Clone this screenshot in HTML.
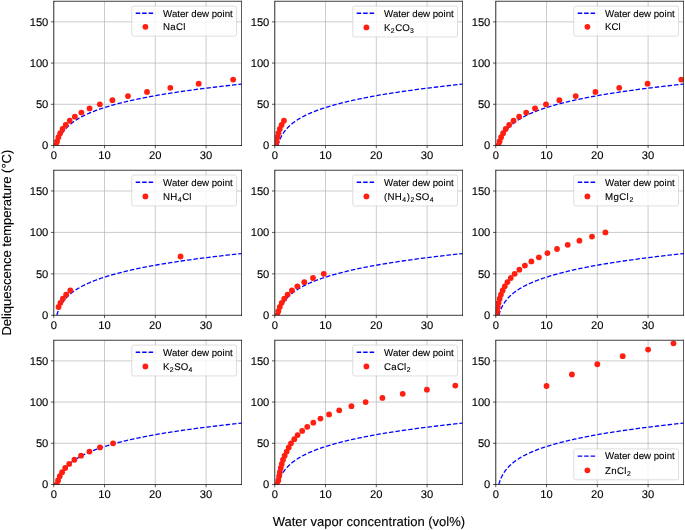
<!DOCTYPE html>
<html><head><meta charset="utf-8"><style>
html,body{margin:0;padding:0;background:#fff;}
svg{display:block;will-change:transform;text-rendering:geometricPrecision;}
text{font-family:"Liberation Sans",sans-serif;stroke:#000;stroke-width:0.12px;}
</style></head><body>
<svg width="685" height="530" viewBox="0 0 685 530" font-family='Liberation Sans, sans-serif'>
<rect width="685" height="530" fill="#fff"/>
<defs><clipPath id="c0"><rect x="53.75" y="1.25" width="187.75" height="144.25"/></clipPath><clipPath id="c1"><rect x="274.75" y="1.25" width="187.75" height="144.25"/></clipPath><clipPath id="c2"><rect x="495.75" y="1.25" width="187.75" height="144.25"/></clipPath><clipPath id="c3"><rect x="53.75" y="170.25" width="187.75" height="145.05"/></clipPath><clipPath id="c4"><rect x="274.75" y="170.25" width="187.75" height="145.05"/></clipPath><clipPath id="c5"><rect x="495.75" y="170.25" width="187.75" height="145.05"/></clipPath><clipPath id="c6"><rect x="53.75" y="340.25" width="187.75" height="144.25"/></clipPath><clipPath id="c7"><rect x="274.75" y="340.25" width="187.75" height="144.25"/></clipPath><clipPath id="c8"><rect x="495.75" y="340.25" width="187.75" height="144.25"/></clipPath></defs>
<g stroke="#b0b0b0" stroke-width="0.65"><line x1="53.75" y1="1.25" x2="53.75" y2="145.5"/><line x1="104.53" y1="1.25" x2="104.53" y2="145.5"/><line x1="155.31" y1="1.25" x2="155.31" y2="145.5"/><line x1="206.09" y1="1.25" x2="206.09" y2="145.5"/><line x1="53.75" y1="145.5" x2="241.5" y2="145.5"/><line x1="53.75" y1="104.29" x2="241.5" y2="104.29"/><line x1="53.75" y1="63.07" x2="241.5" y2="63.07"/><line x1="53.75" y1="21.86" x2="241.5" y2="21.86"/></g>
<g clip-path="url(#c0)"><polyline points="56.81,145.5 56.93,145.09 57.04,144.68 57.16,144.26 57.29,143.85 57.42,143.44 57.55,143.03 57.69,142.62 57.83,142.2 57.97,141.79 58.12,141.38 58.28,140.97 58.44,140.55 58.6,140.14 58.77,139.73 58.95,139.32 59.13,138.91 59.31,138.49 59.5,138.08 59.7,137.67 59.9,137.26 60.11,136.84 60.33,136.43 60.55,136.02 60.78,135.61 61.01,135.2 61.26,134.78 61.5,134.37 61.76,133.96 62.02,133.55 62.3,133.14 62.57,132.72 62.86,132.31 63.16,131.9 63.46,131.49 63.77,131.07 64.09,130.66 64.42,130.25 64.76,129.84 65.11,129.43 65.47,129.01 65.84,128.6 66.21,128.19 66.6,127.78 67,127.37 67.41,126.95 67.83,126.54 68.26,126.13 68.71,125.72 69.16,125.31 69.63,124.89 70.11,124.48 70.6,124.07 71.11,123.66 71.62,123.24 72.16,122.83 72.7,122.42 73.26,122.01 73.83,121.6 74.42,121.18 75.02,120.77 75.64,120.36 76.28,119.95 76.93,119.53 77.59,119.12 78.28,118.71 78.98,118.3 79.69,117.89 80.43,117.47 81.18,117.06 81.95,116.65 82.74,116.24 83.55,115.83 84.37,115.41 85.22,115 86.09,114.59 86.98,114.18 87.89,113.77 88.82,113.35 89.77,112.94 90.75,112.53 91.75,112.12 92.77,111.7 93.81,111.29 94.88,110.88 95.97,110.47 97.09,110.06 98.23,109.64 99.4,109.23 100.6,108.82 101.82,108.41 103.07,108 104.35,107.58 105.66,107.17 106.99,106.76 108.36,106.35 109.75,105.93 111.18,105.52 112.63,105.11 114.12,104.7 115.64,104.29 117.18,103.87 118.76,103.46 120.36,103.05 122.01,102.64 123.68,102.22 125.39,101.81 127.14,101.4 128.92,100.99 130.74,100.58 132.6,100.16 134.49,99.75 136.43,99.34 138.4,98.93 140.41,98.52 142.47,98.1 144.56,97.69 146.7,97.28 148.88,96.87 151.1,96.45 153.37,96.04 155.68,95.63 158.03,95.22 160.44,94.81 162.89,94.39 165.38,93.98 167.93,93.57 170.52,93.16 173.17,92.75 175.86,92.33 178.61,91.92 181.4,91.51 184.25,91.1 187.16,90.69 190.12,90.27 193.13,89.86 196.2,89.45 199.33,89.04 202.51,88.62 205.75,88.21 209.05,87.8 212.42,87.39 215.84,86.98 219.32,86.56 222.87,86.15 226.48,85.74 230.16,85.33 233.9,84.91 237.71,84.5 241.58,84.09 245.53,83.68 249.54,83.27" fill="none" stroke="#0000ff" stroke-width="1.3" stroke-dasharray="4.5 1.95"/>
<g fill="#ff1e10"><circle cx="56.06" cy="145.5" r="2.9"/><circle cx="57.06" cy="141.38" r="2.9"/><circle cx="58.41" cy="137.26" r="2.9"/><circle cx="60.21" cy="133.14" r="2.9"/><circle cx="62.59" cy="129.01" r="2.9"/><circle cx="65.71" cy="124.89" r="2.9"/><circle cx="69.73" cy="120.77" r="2.9"/><circle cx="74.86" cy="116.65" r="2.9"/><circle cx="81.38" cy="112.53" r="2.9"/><circle cx="89.57" cy="108.41" r="2.9"/><circle cx="99.81" cy="104.29" r="2.9"/><circle cx="112.42" cy="100.16" r="2.9"/><circle cx="127.96" cy="96.04" r="2.9"/><circle cx="147.03" cy="91.92" r="2.9"/><circle cx="170.32" cy="87.8" r="2.9"/><circle cx="198.69" cy="83.68" r="2.9"/><circle cx="233.17" cy="79.56" r="2.9"/></g></g>
<g stroke="#000" stroke-width="0.65" stroke-linecap="square"><line x1="241.5" y1="1.25" x2="241.5" y2="145.5"/><line x1="53.75" y1="145.5" x2="241.5" y2="145.5"/></g>
<line x1="53.45" y1="1.25" x2="241.8" y2="1.25" stroke="#2a2a2a" stroke-width="0.9"/>
<line x1="53.75" y1="0.95" x2="53.75" y2="145.8" stroke="#2a2a2a" stroke-width="0.9"/>
<g stroke="#000" stroke-width="0.65"><line x1="53.75" y1="145.5" x2="53.75" y2="148.3"/><line x1="104.53" y1="145.5" x2="104.53" y2="148.3"/><line x1="155.31" y1="145.5" x2="155.31" y2="148.3"/><line x1="206.09" y1="145.5" x2="206.09" y2="148.3"/><line x1="50.95" y1="145.5" x2="53.75" y2="145.5"/><line x1="50.95" y1="104.29" x2="53.75" y2="104.29"/><line x1="50.95" y1="63.07" x2="53.75" y2="63.07"/><line x1="50.95" y1="21.86" x2="53.75" y2="21.86"/></g>
<g font-size="11.2" fill="#000"><text x="53.75" y="159.3" text-anchor="middle">0</text><text x="104.53" y="159.3" text-anchor="middle">10</text><text x="155.31" y="159.3" text-anchor="middle">20</text><text x="206.09" y="159.3" text-anchor="middle">30</text><text x="48.35" y="149.4" text-anchor="end">0</text><text x="48.35" y="108.19" text-anchor="end">50</text><text x="48.35" y="66.97" text-anchor="end">100</text><text x="48.35" y="25.76" text-anchor="end">150</text></g>
<rect x="131.8" y="6.05" width="104.7" height="30.1" rx="1.9" fill="#fff" fill-opacity="0.8" stroke="#cccccc" stroke-width="0.65"/><line x1="135.7" y1="13.25" x2="155.1" y2="13.25" stroke="#0000ff" stroke-width="1.3" stroke-dasharray="4.5 1.95"/><circle cx="145.4" cy="26.85" r="2.9" fill="#ff1e10"/><g font-size="9.7" fill="#000"><text x="163.1" y="16.55">Water dew point</text><text x="163.1" y="30.35" font-size="9.7" letter-spacing="0.25"><tspan>NaCl</tspan></text></g>
<g stroke="#b0b0b0" stroke-width="0.65"><line x1="274.75" y1="1.25" x2="274.75" y2="145.5"/><line x1="325.53" y1="1.25" x2="325.53" y2="145.5"/><line x1="376.31" y1="1.25" x2="376.31" y2="145.5"/><line x1="427.09" y1="1.25" x2="427.09" y2="145.5"/><line x1="274.75" y1="145.5" x2="462.5" y2="145.5"/><line x1="274.75" y1="104.29" x2="462.5" y2="104.29"/><line x1="274.75" y1="63.07" x2="462.5" y2="63.07"/><line x1="274.75" y1="21.86" x2="462.5" y2="21.86"/></g>
<g clip-path="url(#c1)"><polyline points="277.81,145.5 277.93,145.09 278.04,144.68 278.16,144.26 278.29,143.85 278.42,143.44 278.55,143.03 278.69,142.62 278.83,142.2 278.97,141.79 279.12,141.38 279.28,140.97 279.44,140.55 279.6,140.14 279.77,139.73 279.95,139.32 280.13,138.91 280.31,138.49 280.5,138.08 280.7,137.67 280.9,137.26 281.11,136.84 281.33,136.43 281.55,136.02 281.78,135.61 282.01,135.2 282.26,134.78 282.5,134.37 282.76,133.96 283.02,133.55 283.3,133.14 283.57,132.72 283.86,132.31 284.16,131.9 284.46,131.49 284.77,131.07 285.09,130.66 285.42,130.25 285.76,129.84 286.11,129.43 286.47,129.01 286.84,128.6 287.21,128.19 287.6,127.78 288,127.37 288.41,126.95 288.83,126.54 289.26,126.13 289.71,125.72 290.16,125.31 290.63,124.89 291.11,124.48 291.6,124.07 292.11,123.66 292.62,123.24 293.16,122.83 293.7,122.42 294.26,122.01 294.83,121.6 295.42,121.18 296.02,120.77 296.64,120.36 297.28,119.95 297.93,119.53 298.59,119.12 299.28,118.71 299.98,118.3 300.69,117.89 301.43,117.47 302.18,117.06 302.95,116.65 303.74,116.24 304.55,115.83 305.37,115.41 306.22,115 307.09,114.59 307.98,114.18 308.89,113.77 309.82,113.35 310.77,112.94 311.75,112.53 312.75,112.12 313.77,111.7 314.81,111.29 315.88,110.88 316.97,110.47 318.09,110.06 319.23,109.64 320.4,109.23 321.6,108.82 322.82,108.41 324.07,108 325.35,107.58 326.66,107.17 327.99,106.76 329.36,106.35 330.75,105.93 332.18,105.52 333.63,105.11 335.12,104.7 336.64,104.29 338.18,103.87 339.76,103.46 341.36,103.05 343.01,102.64 344.68,102.22 346.39,101.81 348.14,101.4 349.92,100.99 351.74,100.58 353.6,100.16 355.49,99.75 357.43,99.34 359.4,98.93 361.41,98.52 363.47,98.1 365.56,97.69 367.7,97.28 369.88,96.87 372.1,96.45 374.37,96.04 376.68,95.63 379.03,95.22 381.44,94.81 383.89,94.39 386.38,93.98 388.93,93.57 391.52,93.16 394.17,92.75 396.86,92.33 399.61,91.92 402.4,91.51 405.25,91.1 408.16,90.69 411.12,90.27 414.13,89.86 417.2,89.45 420.33,89.04 423.51,88.62 426.75,88.21 430.05,87.8 433.42,87.39 436.84,86.98 440.32,86.56 443.87,86.15 447.48,85.74 451.16,85.33 454.9,84.91 458.71,84.5 462.58,84.09 466.53,83.68 470.54,83.27" fill="none" stroke="#0000ff" stroke-width="1.3" stroke-dasharray="4.5 1.95"/>
<g fill="#ff1e10"><circle cx="276.07" cy="145.5" r="2.9"/><circle cx="276.64" cy="141.38" r="2.9"/><circle cx="277.4" cy="137.26" r="2.9"/><circle cx="278.44" cy="133.14" r="2.9"/><circle cx="279.81" cy="129.01" r="2.9"/><circle cx="281.6" cy="124.89" r="2.9"/><circle cx="283.93" cy="120.77" r="2.9"/></g></g>
<g stroke="#000" stroke-width="0.65" stroke-linecap="square"><line x1="462.5" y1="1.25" x2="462.5" y2="145.5"/><line x1="274.75" y1="145.5" x2="462.5" y2="145.5"/></g>
<line x1="274.45" y1="1.25" x2="462.8" y2="1.25" stroke="#2a2a2a" stroke-width="0.9"/>
<line x1="274.75" y1="0.95" x2="274.75" y2="145.8" stroke="#2a2a2a" stroke-width="0.9"/>
<g stroke="#000" stroke-width="0.65"><line x1="274.75" y1="145.5" x2="274.75" y2="148.3"/><line x1="325.53" y1="145.5" x2="325.53" y2="148.3"/><line x1="376.31" y1="145.5" x2="376.31" y2="148.3"/><line x1="427.09" y1="145.5" x2="427.09" y2="148.3"/><line x1="271.95" y1="145.5" x2="274.75" y2="145.5"/><line x1="271.95" y1="104.29" x2="274.75" y2="104.29"/><line x1="271.95" y1="63.07" x2="274.75" y2="63.07"/><line x1="271.95" y1="21.86" x2="274.75" y2="21.86"/></g>
<g font-size="11.2" fill="#000"><text x="274.75" y="159.3" text-anchor="middle">0</text><text x="325.53" y="159.3" text-anchor="middle">10</text><text x="376.31" y="159.3" text-anchor="middle">20</text><text x="427.09" y="159.3" text-anchor="middle">30</text><text x="269.35" y="149.4" text-anchor="end">0</text><text x="269.35" y="108.19" text-anchor="end">50</text><text x="269.35" y="66.97" text-anchor="end">100</text><text x="269.35" y="25.76" text-anchor="end">150</text></g>
<rect x="352.8" y="6.05" width="104.7" height="30.9" rx="1.9" fill="#fff" fill-opacity="0.8" stroke="#cccccc" stroke-width="0.65"/><line x1="356.7" y1="13.25" x2="376.1" y2="13.25" stroke="#0000ff" stroke-width="1.3" stroke-dasharray="4.5 1.95"/><circle cx="366.4" cy="27.45" r="2.9" fill="#ff1e10"/><g font-size="9.7" fill="#000"><text x="384.1" y="16.55">Water dew point</text><text x="384.1" y="30.85" font-size="9.7"><tspan>K</tspan><tspan font-size="6.79" dy="1.9" dx="0.3">2</tspan><tspan dy="-1.9" dx="0.6">CO</tspan><tspan font-size="6.79" dy="1.9" dx="0.3">3</tspan></text></g>
<g stroke="#b0b0b0" stroke-width="0.65"><line x1="495.75" y1="1.25" x2="495.75" y2="145.5"/><line x1="546.53" y1="1.25" x2="546.53" y2="145.5"/><line x1="597.31" y1="1.25" x2="597.31" y2="145.5"/><line x1="648.09" y1="1.25" x2="648.09" y2="145.5"/><line x1="495.75" y1="145.5" x2="683.5" y2="145.5"/><line x1="495.75" y1="104.29" x2="683.5" y2="104.29"/><line x1="495.75" y1="63.07" x2="683.5" y2="63.07"/><line x1="495.75" y1="21.86" x2="683.5" y2="21.86"/></g>
<g clip-path="url(#c2)"><polyline points="498.81,145.5 498.93,145.09 499.04,144.68 499.16,144.26 499.29,143.85 499.42,143.44 499.55,143.03 499.69,142.62 499.83,142.2 499.97,141.79 500.12,141.38 500.28,140.97 500.44,140.55 500.6,140.14 500.77,139.73 500.95,139.32 501.13,138.91 501.31,138.49 501.5,138.08 501.7,137.67 501.9,137.26 502.11,136.84 502.33,136.43 502.55,136.02 502.78,135.61 503.01,135.2 503.26,134.78 503.5,134.37 503.76,133.96 504.02,133.55 504.3,133.14 504.57,132.72 504.86,132.31 505.16,131.9 505.46,131.49 505.77,131.07 506.09,130.66 506.42,130.25 506.76,129.84 507.11,129.43 507.47,129.01 507.84,128.6 508.21,128.19 508.6,127.78 509,127.37 509.41,126.95 509.83,126.54 510.26,126.13 510.71,125.72 511.16,125.31 511.63,124.89 512.11,124.48 512.6,124.07 513.11,123.66 513.62,123.24 514.16,122.83 514.7,122.42 515.26,122.01 515.83,121.6 516.42,121.18 517.02,120.77 517.64,120.36 518.28,119.95 518.93,119.53 519.59,119.12 520.28,118.71 520.98,118.3 521.69,117.89 522.43,117.47 523.18,117.06 523.95,116.65 524.74,116.24 525.55,115.83 526.37,115.41 527.22,115 528.09,114.59 528.98,114.18 529.89,113.77 530.82,113.35 531.77,112.94 532.75,112.53 533.75,112.12 534.77,111.7 535.81,111.29 536.88,110.88 537.97,110.47 539.09,110.06 540.23,109.64 541.4,109.23 542.6,108.82 543.82,108.41 545.07,108 546.35,107.58 547.66,107.17 548.99,106.76 550.36,106.35 551.75,105.93 553.18,105.52 554.63,105.11 556.12,104.7 557.64,104.29 559.18,103.87 560.76,103.46 562.36,103.05 564.01,102.64 565.68,102.22 567.39,101.81 569.14,101.4 570.92,100.99 572.74,100.58 574.6,100.16 576.49,99.75 578.43,99.34 580.4,98.93 582.41,98.52 584.47,98.1 586.56,97.69 588.7,97.28 590.88,96.87 593.1,96.45 595.37,96.04 597.68,95.63 600.03,95.22 602.44,94.81 604.89,94.39 607.38,93.98 609.93,93.57 612.52,93.16 615.17,92.75 617.86,92.33 620.61,91.92 623.4,91.51 626.25,91.1 629.16,90.69 632.12,90.27 635.13,89.86 638.2,89.45 641.33,89.04 644.51,88.62 647.75,88.21 651.05,87.8 654.42,87.39 657.84,86.98 661.32,86.56 664.87,86.15 668.48,85.74 672.16,85.33 675.9,84.91 679.71,84.5 683.58,84.09 687.53,83.68 691.54,83.27" fill="none" stroke="#0000ff" stroke-width="1.3" stroke-dasharray="4.5 1.95"/>
<g fill="#ff1e10"><circle cx="498.46" cy="145.5" r="2.9"/><circle cx="499.58" cy="141.38" r="2.9"/><circle cx="501.09" cy="137.26" r="2.9"/><circle cx="503.09" cy="133.14" r="2.9"/><circle cx="505.72" cy="129.01" r="2.9"/><circle cx="509.14" cy="124.89" r="2.9"/><circle cx="513.54" cy="120.77" r="2.9"/><circle cx="519.14" cy="116.65" r="2.9"/><circle cx="526.21" cy="112.53" r="2.9"/><circle cx="535.04" cy="108.41" r="2.9"/><circle cx="546" cy="104.29" r="2.9"/><circle cx="559.38" cy="100.16" r="2.9"/><circle cx="575.69" cy="96.04" r="2.9"/><circle cx="595.45" cy="91.92" r="2.9"/><circle cx="619.2" cy="87.8" r="2.9"/><circle cx="647.58" cy="83.68" r="2.9"/><circle cx="681.31" cy="79.56" r="2.9"/></g></g>
<g stroke="#000" stroke-width="0.65" stroke-linecap="square"><line x1="683.5" y1="1.25" x2="683.5" y2="145.5"/><line x1="495.75" y1="145.5" x2="683.5" y2="145.5"/></g>
<line x1="495.45" y1="1.25" x2="683.8" y2="1.25" stroke="#2a2a2a" stroke-width="0.9"/>
<line x1="495.75" y1="0.95" x2="495.75" y2="145.8" stroke="#2a2a2a" stroke-width="0.9"/>
<g stroke="#000" stroke-width="0.65"><line x1="495.75" y1="145.5" x2="495.75" y2="148.3"/><line x1="546.53" y1="145.5" x2="546.53" y2="148.3"/><line x1="597.31" y1="145.5" x2="597.31" y2="148.3"/><line x1="648.09" y1="145.5" x2="648.09" y2="148.3"/><line x1="492.95" y1="145.5" x2="495.75" y2="145.5"/><line x1="492.95" y1="104.29" x2="495.75" y2="104.29"/><line x1="492.95" y1="63.07" x2="495.75" y2="63.07"/><line x1="492.95" y1="21.86" x2="495.75" y2="21.86"/></g>
<g font-size="11.2" fill="#000"><text x="495.75" y="159.3" text-anchor="middle">0</text><text x="546.53" y="159.3" text-anchor="middle">10</text><text x="597.31" y="159.3" text-anchor="middle">20</text><text x="648.09" y="159.3" text-anchor="middle">30</text><text x="490.35" y="149.4" text-anchor="end">0</text><text x="490.35" y="108.19" text-anchor="end">50</text><text x="490.35" y="66.97" text-anchor="end">100</text><text x="490.35" y="25.76" text-anchor="end">150</text></g>
<rect x="573.8" y="6.05" width="104.7" height="30.1" rx="1.9" fill="#fff" fill-opacity="0.8" stroke="#cccccc" stroke-width="0.65"/><line x1="577.7" y1="13.25" x2="597.1" y2="13.25" stroke="#0000ff" stroke-width="1.3" stroke-dasharray="4.5 1.95"/><circle cx="587.4" cy="26.85" r="2.9" fill="#ff1e10"/><g font-size="9.7" fill="#000"><text x="605.1" y="16.55">Water dew point</text><text x="605.1" y="30.35" font-size="9.7"><tspan>KCl</tspan></text></g>
<g stroke="#b0b0b0" stroke-width="0.65"><line x1="53.75" y1="170.25" x2="53.75" y2="315.3"/><line x1="104.53" y1="170.25" x2="104.53" y2="315.3"/><line x1="155.31" y1="170.25" x2="155.31" y2="315.3"/><line x1="206.09" y1="170.25" x2="206.09" y2="315.3"/><line x1="53.75" y1="315.3" x2="241.5" y2="315.3"/><line x1="53.75" y1="273.86" x2="241.5" y2="273.86"/><line x1="53.75" y1="232.41" x2="241.5" y2="232.41"/><line x1="53.75" y1="190.97" x2="241.5" y2="190.97"/></g>
<g clip-path="url(#c3)"><polyline points="56.81,315.3 56.93,314.89 57.04,314.47 57.16,314.06 57.29,313.64 57.42,313.23 57.55,312.81 57.69,312.4 57.83,311.98 57.97,311.57 58.12,311.16 58.28,310.74 58.44,310.33 58.6,309.91 58.77,309.5 58.95,309.08 59.13,308.67 59.31,308.25 59.5,307.84 59.7,307.43 59.9,307.01 60.11,306.6 60.33,306.18 60.55,305.77 60.78,305.35 61.01,304.94 61.26,304.52 61.5,304.11 61.76,303.7 62.02,303.28 62.3,302.87 62.57,302.45 62.86,302.04 63.16,301.62 63.46,301.21 63.77,300.8 64.09,300.38 64.42,299.97 64.76,299.55 65.11,299.14 65.47,298.72 65.84,298.31 66.21,297.89 66.6,297.48 67,297.07 67.41,296.65 67.83,296.24 68.26,295.82 68.71,295.41 69.16,294.99 69.63,294.58 70.11,294.16 70.6,293.75 71.11,293.34 71.62,292.92 72.16,292.51 72.7,292.09 73.26,291.68 73.83,291.26 74.42,290.85 75.02,290.43 75.64,290.02 76.28,289.61 76.93,289.19 77.59,288.78 78.28,288.36 78.98,287.95 79.69,287.53 80.43,287.12 81.18,286.7 81.95,286.29 82.74,285.88 83.55,285.46 84.37,285.05 85.22,284.63 86.09,284.22 86.98,283.8 87.89,283.39 88.82,282.97 89.77,282.56 90.75,282.15 91.75,281.73 92.77,281.32 93.81,280.9 94.88,280.49 95.97,280.07 97.09,279.66 98.23,279.24 99.4,278.83 100.6,278.42 101.82,278 103.07,277.59 104.35,277.17 105.66,276.76 106.99,276.34 108.36,275.93 109.75,275.51 111.18,275.1 112.63,274.69 114.12,274.27 115.64,273.86 117.18,273.44 118.76,273.03 120.36,272.61 122.01,272.2 123.68,271.79 125.39,271.37 127.14,270.96 128.92,270.54 130.74,270.13 132.6,269.71 134.49,269.3 136.43,268.88 138.4,268.47 140.41,268.06 142.47,267.64 144.56,267.23 146.7,266.81 148.88,266.4 151.1,265.98 153.37,265.57 155.68,265.15 158.03,264.74 160.44,264.33 162.89,263.91 165.38,263.5 167.93,263.08 170.52,262.67 173.17,262.25 175.86,261.84 178.61,261.42 181.4,261.01 184.25,260.6 187.16,260.18 190.12,259.77 193.13,259.35 196.2,258.94 199.33,258.52 202.51,258.11 205.75,257.69 209.05,257.28 212.42,256.87 215.84,256.45 219.32,256.04 222.87,255.62 226.48,255.21 230.16,254.79 233.9,254.38 237.71,253.96 241.58,253.55 245.53,253.14 249.54,252.72" fill="none" stroke="#0000ff" stroke-width="1.3" stroke-dasharray="4.5 1.95"/>
<g fill="#ff1e10"><circle cx="58.55" cy="307.01" r="2.9"/><circle cx="60.42" cy="302.87" r="2.9"/><circle cx="62.89" cy="298.72" r="2.9"/><circle cx="66.14" cy="294.58" r="2.9"/><circle cx="70.34" cy="290.43" r="2.9"/><circle cx="180.55" cy="256.5" r="2.9"/></g></g>
<g stroke="#000" stroke-width="0.65" stroke-linecap="square"><line x1="241.5" y1="170.25" x2="241.5" y2="315.3"/><line x1="53.75" y1="315.3" x2="241.5" y2="315.3"/></g>
<line x1="53.45" y1="170.25" x2="241.8" y2="170.25" stroke="#2a2a2a" stroke-width="0.9"/>
<line x1="53.75" y1="169.95" x2="53.75" y2="315.6" stroke="#2a2a2a" stroke-width="0.9"/>
<g stroke="#000" stroke-width="0.65"><line x1="53.75" y1="315.3" x2="53.75" y2="318.1"/><line x1="104.53" y1="315.3" x2="104.53" y2="318.1"/><line x1="155.31" y1="315.3" x2="155.31" y2="318.1"/><line x1="206.09" y1="315.3" x2="206.09" y2="318.1"/><line x1="50.95" y1="315.3" x2="53.75" y2="315.3"/><line x1="50.95" y1="273.86" x2="53.75" y2="273.86"/><line x1="50.95" y1="232.41" x2="53.75" y2="232.41"/><line x1="50.95" y1="190.97" x2="53.75" y2="190.97"/></g>
<g font-size="11.2" fill="#000"><text x="53.75" y="329.1" text-anchor="middle">0</text><text x="104.53" y="329.1" text-anchor="middle">10</text><text x="155.31" y="329.1" text-anchor="middle">20</text><text x="206.09" y="329.1" text-anchor="middle">30</text><text x="48.35" y="319.2" text-anchor="end">0</text><text x="48.35" y="277.76" text-anchor="end">50</text><text x="48.35" y="236.31" text-anchor="end">100</text><text x="48.35" y="194.87" text-anchor="end">150</text></g>
<rect x="131.8" y="175.05" width="104.7" height="30.9" rx="1.9" fill="#fff" fill-opacity="0.8" stroke="#cccccc" stroke-width="0.65"/><line x1="135.7" y1="182.25" x2="155.1" y2="182.25" stroke="#0000ff" stroke-width="1.3" stroke-dasharray="4.5 1.95"/><circle cx="145.4" cy="196.45" r="2.9" fill="#ff1e10"/><g font-size="9.7" fill="#000"><text x="163.1" y="185.55">Water dew point</text><text x="163.1" y="199.85" font-size="9.7" letter-spacing="0.15"><tspan>NH</tspan><tspan font-size="6.79" dy="1.9" dx="0.3">4</tspan><tspan dy="-1.9" dx="0.6">Cl</tspan></text></g>
<g stroke="#b0b0b0" stroke-width="0.65"><line x1="274.75" y1="170.25" x2="274.75" y2="315.3"/><line x1="325.53" y1="170.25" x2="325.53" y2="315.3"/><line x1="376.31" y1="170.25" x2="376.31" y2="315.3"/><line x1="427.09" y1="170.25" x2="427.09" y2="315.3"/><line x1="274.75" y1="315.3" x2="462.5" y2="315.3"/><line x1="274.75" y1="273.86" x2="462.5" y2="273.86"/><line x1="274.75" y1="232.41" x2="462.5" y2="232.41"/><line x1="274.75" y1="190.97" x2="462.5" y2="190.97"/></g>
<g clip-path="url(#c4)"><polyline points="277.81,315.3 277.93,314.89 278.04,314.47 278.16,314.06 278.29,313.64 278.42,313.23 278.55,312.81 278.69,312.4 278.83,311.98 278.97,311.57 279.12,311.16 279.28,310.74 279.44,310.33 279.6,309.91 279.77,309.5 279.95,309.08 280.13,308.67 280.31,308.25 280.5,307.84 280.7,307.43 280.9,307.01 281.11,306.6 281.33,306.18 281.55,305.77 281.78,305.35 282.01,304.94 282.26,304.52 282.5,304.11 282.76,303.7 283.02,303.28 283.3,302.87 283.57,302.45 283.86,302.04 284.16,301.62 284.46,301.21 284.77,300.8 285.09,300.38 285.42,299.97 285.76,299.55 286.11,299.14 286.47,298.72 286.84,298.31 287.21,297.89 287.6,297.48 288,297.07 288.41,296.65 288.83,296.24 289.26,295.82 289.71,295.41 290.16,294.99 290.63,294.58 291.11,294.16 291.6,293.75 292.11,293.34 292.62,292.92 293.16,292.51 293.7,292.09 294.26,291.68 294.83,291.26 295.42,290.85 296.02,290.43 296.64,290.02 297.28,289.61 297.93,289.19 298.59,288.78 299.28,288.36 299.98,287.95 300.69,287.53 301.43,287.12 302.18,286.7 302.95,286.29 303.74,285.88 304.55,285.46 305.37,285.05 306.22,284.63 307.09,284.22 307.98,283.8 308.89,283.39 309.82,282.97 310.77,282.56 311.75,282.15 312.75,281.73 313.77,281.32 314.81,280.9 315.88,280.49 316.97,280.07 318.09,279.66 319.23,279.24 320.4,278.83 321.6,278.42 322.82,278 324.07,277.59 325.35,277.17 326.66,276.76 327.99,276.34 329.36,275.93 330.75,275.51 332.18,275.1 333.63,274.69 335.12,274.27 336.64,273.86 338.18,273.44 339.76,273.03 341.36,272.61 343.01,272.2 344.68,271.79 346.39,271.37 348.14,270.96 349.92,270.54 351.74,270.13 353.6,269.71 355.49,269.3 357.43,268.88 359.4,268.47 361.41,268.06 363.47,267.64 365.56,267.23 367.7,266.81 369.88,266.4 372.1,265.98 374.37,265.57 376.68,265.15 379.03,264.74 381.44,264.33 383.89,263.91 386.38,263.5 388.93,263.08 391.52,262.67 394.17,262.25 396.86,261.84 399.61,261.42 402.4,261.01 405.25,260.6 408.16,260.18 411.12,259.77 414.13,259.35 417.2,258.94 420.33,258.52 423.51,258.11 426.75,257.69 430.05,257.28 433.42,256.87 436.84,256.45 440.32,256.04 443.87,255.62 447.48,255.21 451.16,254.79 454.9,254.38 458.71,253.96 462.58,253.55 466.53,253.14 470.54,252.72" fill="none" stroke="#0000ff" stroke-width="1.3" stroke-dasharray="4.5 1.95"/>
<g fill="#ff1e10"><circle cx="277.29" cy="315.3" r="2.9"/><circle cx="278.35" cy="311.16" r="2.9"/><circle cx="279.8" cy="307.01" r="2.9"/><circle cx="281.73" cy="302.87" r="2.9"/><circle cx="284.28" cy="298.72" r="2.9"/><circle cx="287.61" cy="294.58" r="2.9"/><circle cx="291.9" cy="290.43" r="2.9"/><circle cx="297.39" cy="286.29" r="2.9"/><circle cx="304.31" cy="282.15" r="2.9"/><circle cx="313" cy="278" r="2.9"/><circle cx="323.77" cy="273.86" r="2.9"/></g></g>
<g stroke="#000" stroke-width="0.65" stroke-linecap="square"><line x1="462.5" y1="170.25" x2="462.5" y2="315.3"/><line x1="274.75" y1="315.3" x2="462.5" y2="315.3"/></g>
<line x1="274.45" y1="170.25" x2="462.8" y2="170.25" stroke="#2a2a2a" stroke-width="0.9"/>
<line x1="274.75" y1="169.95" x2="274.75" y2="315.6" stroke="#2a2a2a" stroke-width="0.9"/>
<g stroke="#000" stroke-width="0.65"><line x1="274.75" y1="315.3" x2="274.75" y2="318.1"/><line x1="325.53" y1="315.3" x2="325.53" y2="318.1"/><line x1="376.31" y1="315.3" x2="376.31" y2="318.1"/><line x1="427.09" y1="315.3" x2="427.09" y2="318.1"/><line x1="271.95" y1="315.3" x2="274.75" y2="315.3"/><line x1="271.95" y1="273.86" x2="274.75" y2="273.86"/><line x1="271.95" y1="232.41" x2="274.75" y2="232.41"/><line x1="271.95" y1="190.97" x2="274.75" y2="190.97"/></g>
<g font-size="11.2" fill="#000"><text x="274.75" y="329.1" text-anchor="middle">0</text><text x="325.53" y="329.1" text-anchor="middle">10</text><text x="376.31" y="329.1" text-anchor="middle">20</text><text x="427.09" y="329.1" text-anchor="middle">30</text><text x="269.35" y="319.2" text-anchor="end">0</text><text x="269.35" y="277.76" text-anchor="end">50</text><text x="269.35" y="236.31" text-anchor="end">100</text><text x="269.35" y="194.87" text-anchor="end">150</text></g>
<rect x="352.8" y="175.05" width="104.7" height="30.9" rx="1.9" fill="#fff" fill-opacity="0.8" stroke="#cccccc" stroke-width="0.65"/><line x1="356.7" y1="182.25" x2="376.1" y2="182.25" stroke="#0000ff" stroke-width="1.3" stroke-dasharray="4.5 1.95"/><circle cx="366.4" cy="196.45" r="2.9" fill="#ff1e10"/><g font-size="9.7" fill="#000"><text x="384.1" y="185.55">Water dew point</text><text x="384.1" y="199.85" font-size="9.7" letter-spacing="0.2"><tspan>(NH</tspan><tspan font-size="6.79" dy="1.9" dx="0.3">4</tspan><tspan dy="-1.9" dx="0.6">)</tspan><tspan font-size="6.79" dy="1.9" dx="0.3">2</tspan><tspan dy="-1.9" dx="0.6">SO</tspan><tspan font-size="6.79" dy="1.9" dx="0.3">4</tspan></text></g>
<g stroke="#b0b0b0" stroke-width="0.65"><line x1="495.75" y1="170.25" x2="495.75" y2="315.3"/><line x1="546.53" y1="170.25" x2="546.53" y2="315.3"/><line x1="597.31" y1="170.25" x2="597.31" y2="315.3"/><line x1="648.09" y1="170.25" x2="648.09" y2="315.3"/><line x1="495.75" y1="315.3" x2="683.5" y2="315.3"/><line x1="495.75" y1="273.86" x2="683.5" y2="273.86"/><line x1="495.75" y1="232.41" x2="683.5" y2="232.41"/><line x1="495.75" y1="190.97" x2="683.5" y2="190.97"/></g>
<g clip-path="url(#c5)"><polyline points="498.81,315.3 498.93,314.89 499.04,314.47 499.16,314.06 499.29,313.64 499.42,313.23 499.55,312.81 499.69,312.4 499.83,311.98 499.97,311.57 500.12,311.16 500.28,310.74 500.44,310.33 500.6,309.91 500.77,309.5 500.95,309.08 501.13,308.67 501.31,308.25 501.5,307.84 501.7,307.43 501.9,307.01 502.11,306.6 502.33,306.18 502.55,305.77 502.78,305.35 503.01,304.94 503.26,304.52 503.5,304.11 503.76,303.7 504.02,303.28 504.3,302.87 504.57,302.45 504.86,302.04 505.16,301.62 505.46,301.21 505.77,300.8 506.09,300.38 506.42,299.97 506.76,299.55 507.11,299.14 507.47,298.72 507.84,298.31 508.21,297.89 508.6,297.48 509,297.07 509.41,296.65 509.83,296.24 510.26,295.82 510.71,295.41 511.16,294.99 511.63,294.58 512.11,294.16 512.6,293.75 513.11,293.34 513.62,292.92 514.16,292.51 514.7,292.09 515.26,291.68 515.83,291.26 516.42,290.85 517.02,290.43 517.64,290.02 518.28,289.61 518.93,289.19 519.59,288.78 520.28,288.36 520.98,287.95 521.69,287.53 522.43,287.12 523.18,286.7 523.95,286.29 524.74,285.88 525.55,285.46 526.37,285.05 527.22,284.63 528.09,284.22 528.98,283.8 529.89,283.39 530.82,282.97 531.77,282.56 532.75,282.15 533.75,281.73 534.77,281.32 535.81,280.9 536.88,280.49 537.97,280.07 539.09,279.66 540.23,279.24 541.4,278.83 542.6,278.42 543.82,278 545.07,277.59 546.35,277.17 547.66,276.76 548.99,276.34 550.36,275.93 551.75,275.51 553.18,275.1 554.63,274.69 556.12,274.27 557.64,273.86 559.18,273.44 560.76,273.03 562.36,272.61 564.01,272.2 565.68,271.79 567.39,271.37 569.14,270.96 570.92,270.54 572.74,270.13 574.6,269.71 576.49,269.3 578.43,268.88 580.4,268.47 582.41,268.06 584.47,267.64 586.56,267.23 588.7,266.81 590.88,266.4 593.1,265.98 595.37,265.57 597.68,265.15 600.03,264.74 602.44,264.33 604.89,263.91 607.38,263.5 609.93,263.08 612.52,262.67 615.17,262.25 617.86,261.84 620.61,261.42 623.4,261.01 626.25,260.6 629.16,260.18 632.12,259.77 635.13,259.35 638.2,258.94 641.33,258.52 644.51,258.11 647.75,257.69 651.05,257.28 654.42,256.87 657.84,256.45 661.32,256.04 664.87,255.62 668.48,255.21 672.16,254.79 675.9,254.38 679.71,253.96 683.58,253.55 687.53,253.14 691.54,252.72" fill="none" stroke="#0000ff" stroke-width="1.3" stroke-dasharray="4.5 1.95"/>
<g fill="#ff1e10"><circle cx="496.78" cy="315.3" r="2.9"/><circle cx="497.22" cy="311.16" r="2.9"/><circle cx="497.81" cy="307.01" r="2.9"/><circle cx="498.6" cy="302.87" r="2.9"/><circle cx="499.63" cy="298.72" r="2.9"/><circle cx="500.96" cy="294.58" r="2.9"/><circle cx="502.65" cy="290.43" r="2.9"/><circle cx="504.79" cy="286.29" r="2.9"/><circle cx="507.44" cy="282.15" r="2.9"/><circle cx="510.7" cy="278" r="2.9"/><circle cx="514.65" cy="273.86" r="2.9"/><circle cx="519.35" cy="269.71" r="2.9"/><circle cx="524.9" cy="265.57" r="2.9"/><circle cx="531.38" cy="261.42" r="2.9"/><circle cx="538.88" cy="257.28" r="2.9"/><circle cx="547.41" cy="253.14" r="2.9"/><circle cx="557.01" cy="248.99" r="2.9"/><circle cx="567.69" cy="244.85" r="2.9"/><circle cx="579.4" cy="240.7" r="2.9"/><circle cx="592.01" cy="236.56" r="2.9"/><circle cx="605.4" cy="232.41" r="2.9"/></g></g>
<g stroke="#000" stroke-width="0.65" stroke-linecap="square"><line x1="683.5" y1="170.25" x2="683.5" y2="315.3"/><line x1="495.75" y1="315.3" x2="683.5" y2="315.3"/></g>
<line x1="495.45" y1="170.25" x2="683.8" y2="170.25" stroke="#2a2a2a" stroke-width="0.9"/>
<line x1="495.75" y1="169.95" x2="495.75" y2="315.6" stroke="#2a2a2a" stroke-width="0.9"/>
<g stroke="#000" stroke-width="0.65"><line x1="495.75" y1="315.3" x2="495.75" y2="318.1"/><line x1="546.53" y1="315.3" x2="546.53" y2="318.1"/><line x1="597.31" y1="315.3" x2="597.31" y2="318.1"/><line x1="648.09" y1="315.3" x2="648.09" y2="318.1"/><line x1="492.95" y1="315.3" x2="495.75" y2="315.3"/><line x1="492.95" y1="273.86" x2="495.75" y2="273.86"/><line x1="492.95" y1="232.41" x2="495.75" y2="232.41"/><line x1="492.95" y1="190.97" x2="495.75" y2="190.97"/></g>
<g font-size="11.2" fill="#000"><text x="495.75" y="329.1" text-anchor="middle">0</text><text x="546.53" y="329.1" text-anchor="middle">10</text><text x="597.31" y="329.1" text-anchor="middle">20</text><text x="648.09" y="329.1" text-anchor="middle">30</text><text x="490.35" y="319.2" text-anchor="end">0</text><text x="490.35" y="277.76" text-anchor="end">50</text><text x="490.35" y="236.31" text-anchor="end">100</text><text x="490.35" y="194.87" text-anchor="end">150</text></g>
<rect x="573.8" y="175.05" width="104.7" height="30.9" rx="1.9" fill="#fff" fill-opacity="0.8" stroke="#cccccc" stroke-width="0.65"/><line x1="577.7" y1="182.25" x2="597.1" y2="182.25" stroke="#0000ff" stroke-width="1.3" stroke-dasharray="4.5 1.95"/><circle cx="587.4" cy="196.45" r="2.9" fill="#ff1e10"/><g font-size="9.7" fill="#000"><text x="605.1" y="185.55">Water dew point</text><text x="605.1" y="199.85" font-size="9.7" letter-spacing="0.35"><tspan>MgCl</tspan><tspan font-size="6.79" dy="1.9" dx="0.3">2</tspan></text></g>
<g stroke="#b0b0b0" stroke-width="0.65"><line x1="53.75" y1="340.25" x2="53.75" y2="484.5"/><line x1="104.53" y1="340.25" x2="104.53" y2="484.5"/><line x1="155.31" y1="340.25" x2="155.31" y2="484.5"/><line x1="206.09" y1="340.25" x2="206.09" y2="484.5"/><line x1="53.75" y1="484.5" x2="241.5" y2="484.5"/><line x1="53.75" y1="443.29" x2="241.5" y2="443.29"/><line x1="53.75" y1="402.07" x2="241.5" y2="402.07"/><line x1="53.75" y1="360.86" x2="241.5" y2="360.86"/></g>
<g clip-path="url(#c6)"><polyline points="56.81,484.5 56.93,484.09 57.04,483.68 57.16,483.26 57.29,482.85 57.42,482.44 57.55,482.03 57.69,481.62 57.83,481.2 57.97,480.79 58.12,480.38 58.28,479.97 58.44,479.55 58.6,479.14 58.77,478.73 58.95,478.32 59.13,477.91 59.31,477.49 59.5,477.08 59.7,476.67 59.9,476.26 60.11,475.85 60.33,475.43 60.55,475.02 60.78,474.61 61.01,474.2 61.26,473.78 61.5,473.37 61.76,472.96 62.02,472.55 62.3,472.14 62.57,471.72 62.86,471.31 63.16,470.9 63.46,470.49 63.77,470.07 64.09,469.66 64.42,469.25 64.76,468.84 65.11,468.43 65.47,468.01 65.84,467.6 66.21,467.19 66.6,466.78 67,466.37 67.41,465.95 67.83,465.54 68.26,465.13 68.71,464.72 69.16,464.31 69.63,463.89 70.11,463.48 70.6,463.07 71.11,462.66 71.62,462.24 72.16,461.83 72.7,461.42 73.26,461.01 73.83,460.6 74.42,460.18 75.02,459.77 75.64,459.36 76.28,458.95 76.93,458.54 77.59,458.12 78.28,457.71 78.98,457.3 79.69,456.89 80.43,456.47 81.18,456.06 81.95,455.65 82.74,455.24 83.55,454.83 84.37,454.41 85.22,454 86.09,453.59 86.98,453.18 87.89,452.76 88.82,452.35 89.77,451.94 90.75,451.53 91.75,451.12 92.77,450.7 93.81,450.29 94.88,449.88 95.97,449.47 97.09,449.06 98.23,448.64 99.4,448.23 100.6,447.82 101.82,447.41 103.07,447 104.35,446.58 105.66,446.17 106.99,445.76 108.36,445.35 109.75,444.93 111.18,444.52 112.63,444.11 114.12,443.7 115.64,443.29 117.18,442.87 118.76,442.46 120.36,442.05 122.01,441.64 123.68,441.23 125.39,440.81 127.14,440.4 128.92,439.99 130.74,439.58 132.6,439.16 134.49,438.75 136.43,438.34 138.4,437.93 140.41,437.52 142.47,437.1 144.56,436.69 146.7,436.28 148.88,435.87 151.1,435.45 153.37,435.04 155.68,434.63 158.03,434.22 160.44,433.81 162.89,433.39 165.38,432.98 167.93,432.57 170.52,432.16 173.17,431.75 175.86,431.33 178.61,430.92 181.4,430.51 184.25,430.1 187.16,429.69 190.12,429.27 193.13,428.86 196.2,428.45 199.33,428.04 202.51,427.62 205.75,427.21 209.05,426.8 212.42,426.39 215.84,425.98 219.32,425.56 222.87,425.15 226.48,424.74 230.16,424.33 233.9,423.92 237.71,423.5 241.58,423.09 245.53,422.68 249.54,422.27" fill="none" stroke="#0000ff" stroke-width="1.3" stroke-dasharray="4.5 1.95"/>
<g fill="#ff1e10"><circle cx="56.78" cy="484.5" r="2.9"/><circle cx="58.06" cy="480.38" r="2.9"/><circle cx="59.79" cy="476.26" r="2.9"/><circle cx="62.12" cy="472.14" r="2.9"/><circle cx="65.19" cy="468.01" r="2.9"/><circle cx="69.2" cy="463.89" r="2.9"/><circle cx="74.39" cy="459.77" r="2.9"/><circle cx="81.02" cy="455.65" r="2.9"/><circle cx="89.42" cy="451.53" r="2.9"/><circle cx="99.96" cy="447.41" r="2.9"/><circle cx="113.05" cy="443.29" r="2.9"/></g></g>
<g stroke="#000" stroke-width="0.65" stroke-linecap="square"><line x1="241.5" y1="340.25" x2="241.5" y2="484.5"/><line x1="53.75" y1="484.5" x2="241.5" y2="484.5"/></g>
<line x1="53.45" y1="340.25" x2="241.8" y2="340.25" stroke="#2a2a2a" stroke-width="0.9"/>
<line x1="53.75" y1="339.95" x2="53.75" y2="484.8" stroke="#2a2a2a" stroke-width="0.9"/>
<g stroke="#000" stroke-width="0.65"><line x1="53.75" y1="484.5" x2="53.75" y2="487.3"/><line x1="104.53" y1="484.5" x2="104.53" y2="487.3"/><line x1="155.31" y1="484.5" x2="155.31" y2="487.3"/><line x1="206.09" y1="484.5" x2="206.09" y2="487.3"/><line x1="50.95" y1="484.5" x2="53.75" y2="484.5"/><line x1="50.95" y1="443.29" x2="53.75" y2="443.29"/><line x1="50.95" y1="402.07" x2="53.75" y2="402.07"/><line x1="50.95" y1="360.86" x2="53.75" y2="360.86"/></g>
<g font-size="11.2" fill="#000"><text x="53.75" y="498.3" text-anchor="middle">0</text><text x="104.53" y="498.3" text-anchor="middle">10</text><text x="155.31" y="498.3" text-anchor="middle">20</text><text x="206.09" y="498.3" text-anchor="middle">30</text><text x="48.35" y="488.4" text-anchor="end">0</text><text x="48.35" y="447.19" text-anchor="end">50</text><text x="48.35" y="405.97" text-anchor="end">100</text><text x="48.35" y="364.76" text-anchor="end">150</text></g>
<rect x="131.8" y="345.05" width="104.7" height="30.9" rx="1.9" fill="#fff" fill-opacity="0.8" stroke="#cccccc" stroke-width="0.65"/><line x1="135.7" y1="352.25" x2="155.1" y2="352.25" stroke="#0000ff" stroke-width="1.3" stroke-dasharray="4.5 1.95"/><circle cx="145.4" cy="366.45" r="2.9" fill="#ff1e10"/><g font-size="9.7" fill="#000"><text x="163.1" y="355.55">Water dew point</text><text x="163.1" y="369.85" font-size="9.7"><tspan>K</tspan><tspan font-size="6.79" dy="1.9" dx="0.3">2</tspan><tspan dy="-1.9" dx="0.6">SO</tspan><tspan font-size="6.79" dy="1.9" dx="0.3">4</tspan></text></g>
<g stroke="#b0b0b0" stroke-width="0.65"><line x1="274.75" y1="340.25" x2="274.75" y2="484.5"/><line x1="325.53" y1="340.25" x2="325.53" y2="484.5"/><line x1="376.31" y1="340.25" x2="376.31" y2="484.5"/><line x1="427.09" y1="340.25" x2="427.09" y2="484.5"/><line x1="274.75" y1="484.5" x2="462.5" y2="484.5"/><line x1="274.75" y1="443.29" x2="462.5" y2="443.29"/><line x1="274.75" y1="402.07" x2="462.5" y2="402.07"/><line x1="274.75" y1="360.86" x2="462.5" y2="360.86"/></g>
<g clip-path="url(#c7)"><polyline points="277.81,484.5 277.93,484.09 278.04,483.68 278.16,483.26 278.29,482.85 278.42,482.44 278.55,482.03 278.69,481.62 278.83,481.2 278.97,480.79 279.12,480.38 279.28,479.97 279.44,479.55 279.6,479.14 279.77,478.73 279.95,478.32 280.13,477.91 280.31,477.49 280.5,477.08 280.7,476.67 280.9,476.26 281.11,475.85 281.33,475.43 281.55,475.02 281.78,474.61 282.01,474.2 282.26,473.78 282.5,473.37 282.76,472.96 283.02,472.55 283.3,472.14 283.57,471.72 283.86,471.31 284.16,470.9 284.46,470.49 284.77,470.07 285.09,469.66 285.42,469.25 285.76,468.84 286.11,468.43 286.47,468.01 286.84,467.6 287.21,467.19 287.6,466.78 288,466.37 288.41,465.95 288.83,465.54 289.26,465.13 289.71,464.72 290.16,464.31 290.63,463.89 291.11,463.48 291.6,463.07 292.11,462.66 292.62,462.24 293.16,461.83 293.7,461.42 294.26,461.01 294.83,460.6 295.42,460.18 296.02,459.77 296.64,459.36 297.28,458.95 297.93,458.54 298.59,458.12 299.28,457.71 299.98,457.3 300.69,456.89 301.43,456.47 302.18,456.06 302.95,455.65 303.74,455.24 304.55,454.83 305.37,454.41 306.22,454 307.09,453.59 307.98,453.18 308.89,452.76 309.82,452.35 310.77,451.94 311.75,451.53 312.75,451.12 313.77,450.7 314.81,450.29 315.88,449.88 316.97,449.47 318.09,449.06 319.23,448.64 320.4,448.23 321.6,447.82 322.82,447.41 324.07,447 325.35,446.58 326.66,446.17 327.99,445.76 329.36,445.35 330.75,444.93 332.18,444.52 333.63,444.11 335.12,443.7 336.64,443.29 338.18,442.87 339.76,442.46 341.36,442.05 343.01,441.64 344.68,441.23 346.39,440.81 348.14,440.4 349.92,439.99 351.74,439.58 353.6,439.16 355.49,438.75 357.43,438.34 359.4,437.93 361.41,437.52 363.47,437.1 365.56,436.69 367.7,436.28 369.88,435.87 372.1,435.45 374.37,435.04 376.68,434.63 379.03,434.22 381.44,433.81 383.89,433.39 386.38,432.98 388.93,432.57 391.52,432.16 394.17,431.75 396.86,431.33 399.61,430.92 402.4,430.51 405.25,430.1 408.16,429.69 411.12,429.27 414.13,428.86 417.2,428.45 420.33,428.04 423.51,427.62 426.75,427.21 430.05,426.8 433.42,426.39 436.84,425.98 440.32,425.56 443.87,425.15 447.48,424.74 451.16,424.33 454.9,423.92 458.71,423.5 462.58,423.09 466.53,422.68 470.54,422.27" fill="none" stroke="#0000ff" stroke-width="1.3" stroke-dasharray="4.5 1.95"/>
<g fill="#ff1e10"><circle cx="277.04" cy="484.5" r="2.9"/><circle cx="278.3" cy="480.38" r="2.9"/><circle cx="279.12" cy="476.26" r="2.9"/><circle cx="279.83" cy="472.14" r="2.9"/><circle cx="280.74" cy="468.01" r="2.9"/><circle cx="281.76" cy="463.89" r="2.9"/><circle cx="283.03" cy="459.77" r="2.9"/><circle cx="284.65" cy="455.65" r="2.9"/><circle cx="286.68" cy="451.53" r="2.9"/><circle cx="288.71" cy="447.41" r="2.9"/><circle cx="291" cy="443.29" r="2.9"/><circle cx="294.3" cy="439.16" r="2.9"/><circle cx="297.6" cy="435.04" r="2.9"/><circle cx="302.17" cy="430.92" r="2.9"/><circle cx="307.25" cy="426.8" r="2.9"/><circle cx="313.34" cy="422.68" r="2.9"/><circle cx="320.45" cy="418.56" r="2.9"/><circle cx="329.08" cy="414.44" r="2.9"/><circle cx="339.24" cy="410.31" r="2.9"/><circle cx="351.43" cy="406.19" r="2.9"/><circle cx="365.65" cy="402.07" r="2.9"/><circle cx="382.4" cy="397.95" r="2.9"/><circle cx="402.72" cy="393.83" r="2.9"/><circle cx="426.89" cy="389.71" r="2.9"/><circle cx="455.32" cy="385.59" r="2.9"/></g></g>
<g stroke="#000" stroke-width="0.65" stroke-linecap="square"><line x1="462.5" y1="340.25" x2="462.5" y2="484.5"/><line x1="274.75" y1="484.5" x2="462.5" y2="484.5"/></g>
<line x1="274.45" y1="340.25" x2="462.8" y2="340.25" stroke="#2a2a2a" stroke-width="0.9"/>
<line x1="274.75" y1="339.95" x2="274.75" y2="484.8" stroke="#2a2a2a" stroke-width="0.9"/>
<g stroke="#000" stroke-width="0.65"><line x1="274.75" y1="484.5" x2="274.75" y2="487.3"/><line x1="325.53" y1="484.5" x2="325.53" y2="487.3"/><line x1="376.31" y1="484.5" x2="376.31" y2="487.3"/><line x1="427.09" y1="484.5" x2="427.09" y2="487.3"/><line x1="271.95" y1="484.5" x2="274.75" y2="484.5"/><line x1="271.95" y1="443.29" x2="274.75" y2="443.29"/><line x1="271.95" y1="402.07" x2="274.75" y2="402.07"/><line x1="271.95" y1="360.86" x2="274.75" y2="360.86"/></g>
<g font-size="11.2" fill="#000"><text x="274.75" y="498.3" text-anchor="middle">0</text><text x="325.53" y="498.3" text-anchor="middle">10</text><text x="376.31" y="498.3" text-anchor="middle">20</text><text x="427.09" y="498.3" text-anchor="middle">30</text><text x="269.35" y="488.4" text-anchor="end">0</text><text x="269.35" y="447.19" text-anchor="end">50</text><text x="269.35" y="405.97" text-anchor="end">100</text><text x="269.35" y="364.76" text-anchor="end">150</text></g>
<rect x="352.8" y="345.05" width="104.7" height="30.9" rx="1.9" fill="#fff" fill-opacity="0.8" stroke="#cccccc" stroke-width="0.65"/><line x1="356.7" y1="352.25" x2="376.1" y2="352.25" stroke="#0000ff" stroke-width="1.3" stroke-dasharray="4.5 1.95"/><circle cx="366.4" cy="366.45" r="2.9" fill="#ff1e10"/><g font-size="9.7" fill="#000"><text x="384.1" y="355.55">Water dew point</text><text x="384.1" y="369.85" font-size="9.7" letter-spacing="0.2"><tspan>CaCl</tspan><tspan font-size="6.79" dy="1.9" dx="0.3">2</tspan></text></g>
<g stroke="#b0b0b0" stroke-width="0.65"><line x1="495.75" y1="340.25" x2="495.75" y2="484.5"/><line x1="546.53" y1="340.25" x2="546.53" y2="484.5"/><line x1="597.31" y1="340.25" x2="597.31" y2="484.5"/><line x1="648.09" y1="340.25" x2="648.09" y2="484.5"/><line x1="495.75" y1="484.5" x2="683.5" y2="484.5"/><line x1="495.75" y1="443.29" x2="683.5" y2="443.29"/><line x1="495.75" y1="402.07" x2="683.5" y2="402.07"/><line x1="495.75" y1="360.86" x2="683.5" y2="360.86"/></g>
<g clip-path="url(#c8)"><polyline points="498.81,484.5 498.93,484.09 499.04,483.68 499.16,483.26 499.29,482.85 499.42,482.44 499.55,482.03 499.69,481.62 499.83,481.2 499.97,480.79 500.12,480.38 500.28,479.97 500.44,479.55 500.6,479.14 500.77,478.73 500.95,478.32 501.13,477.91 501.31,477.49 501.5,477.08 501.7,476.67 501.9,476.26 502.11,475.85 502.33,475.43 502.55,475.02 502.78,474.61 503.01,474.2 503.26,473.78 503.5,473.37 503.76,472.96 504.02,472.55 504.3,472.14 504.57,471.72 504.86,471.31 505.16,470.9 505.46,470.49 505.77,470.07 506.09,469.66 506.42,469.25 506.76,468.84 507.11,468.43 507.47,468.01 507.84,467.6 508.21,467.19 508.6,466.78 509,466.37 509.41,465.95 509.83,465.54 510.26,465.13 510.71,464.72 511.16,464.31 511.63,463.89 512.11,463.48 512.6,463.07 513.11,462.66 513.62,462.24 514.16,461.83 514.7,461.42 515.26,461.01 515.83,460.6 516.42,460.18 517.02,459.77 517.64,459.36 518.28,458.95 518.93,458.54 519.59,458.12 520.28,457.71 520.98,457.3 521.69,456.89 522.43,456.47 523.18,456.06 523.95,455.65 524.74,455.24 525.55,454.83 526.37,454.41 527.22,454 528.09,453.59 528.98,453.18 529.89,452.76 530.82,452.35 531.77,451.94 532.75,451.53 533.75,451.12 534.77,450.7 535.81,450.29 536.88,449.88 537.97,449.47 539.09,449.06 540.23,448.64 541.4,448.23 542.6,447.82 543.82,447.41 545.07,447 546.35,446.58 547.66,446.17 548.99,445.76 550.36,445.35 551.75,444.93 553.18,444.52 554.63,444.11 556.12,443.7 557.64,443.29 559.18,442.87 560.76,442.46 562.36,442.05 564.01,441.64 565.68,441.23 567.39,440.81 569.14,440.4 570.92,439.99 572.74,439.58 574.6,439.16 576.49,438.75 578.43,438.34 580.4,437.93 582.41,437.52 584.47,437.1 586.56,436.69 588.7,436.28 590.88,435.87 593.1,435.45 595.37,435.04 597.68,434.63 600.03,434.22 602.44,433.81 604.89,433.39 607.38,432.98 609.93,432.57 612.52,432.16 615.17,431.75 617.86,431.33 620.61,430.92 623.4,430.51 626.25,430.1 629.16,429.69 632.12,429.27 635.13,428.86 638.2,428.45 641.33,428.04 644.51,427.62 647.75,427.21 651.05,426.8 654.42,426.39 657.84,425.98 661.32,425.56 664.87,425.15 668.48,424.74 672.16,424.33 675.9,423.92 679.71,423.5 683.58,423.09 687.53,422.68 691.54,422.27" fill="none" stroke="#0000ff" stroke-width="1.3" stroke-dasharray="4.5 1.95"/>
<g fill="#ff1e10"><circle cx="546.53" cy="386" r="2.9"/><circle cx="571.92" cy="374.38" r="2.9"/><circle cx="597.31" cy="364.24" r="2.9"/><circle cx="622.7" cy="356.16" r="2.9"/><circle cx="648.09" cy="349.56" r="2.9"/><circle cx="673.48" cy="343.3" r="2.9"/></g></g>
<g stroke="#000" stroke-width="0.65" stroke-linecap="square"><line x1="683.5" y1="340.25" x2="683.5" y2="484.5"/><line x1="495.75" y1="484.5" x2="683.5" y2="484.5"/></g>
<line x1="495.45" y1="340.25" x2="683.8" y2="340.25" stroke="#2a2a2a" stroke-width="0.9"/>
<line x1="495.75" y1="339.95" x2="495.75" y2="484.8" stroke="#2a2a2a" stroke-width="0.9"/>
<g stroke="#000" stroke-width="0.65"><line x1="495.75" y1="484.5" x2="495.75" y2="487.3"/><line x1="546.53" y1="484.5" x2="546.53" y2="487.3"/><line x1="597.31" y1="484.5" x2="597.31" y2="487.3"/><line x1="648.09" y1="484.5" x2="648.09" y2="487.3"/><line x1="492.95" y1="484.5" x2="495.75" y2="484.5"/><line x1="492.95" y1="443.29" x2="495.75" y2="443.29"/><line x1="492.95" y1="402.07" x2="495.75" y2="402.07"/><line x1="492.95" y1="360.86" x2="495.75" y2="360.86"/></g>
<g font-size="11.2" fill="#000"><text x="495.75" y="498.3" text-anchor="middle">0</text><text x="546.53" y="498.3" text-anchor="middle">10</text><text x="597.31" y="498.3" text-anchor="middle">20</text><text x="648.09" y="498.3" text-anchor="middle">30</text><text x="490.35" y="488.4" text-anchor="end">0</text><text x="490.35" y="447.19" text-anchor="end">50</text><text x="490.35" y="405.97" text-anchor="end">100</text><text x="490.35" y="364.76" text-anchor="end">150</text></g>
<rect x="573.8" y="448.9" width="104.7" height="30.9" rx="1.9" fill="#fff" fill-opacity="0.8" stroke="#cccccc" stroke-width="0.65"/><line x1="577.7" y1="456.1" x2="597.1" y2="456.1" stroke="#0000ff" stroke-width="1.3" stroke-dasharray="4.5 1.95"/><circle cx="587.4" cy="470.3" r="2.9" fill="#ff1e10"/><g font-size="9.7" fill="#000"><text x="605.1" y="459.4">Water dew point</text><text x="605.1" y="473.7" font-size="9.7" letter-spacing="0.3"><tspan>ZnCl</tspan><tspan font-size="6.79" dy="1.9" dx="0.3">2</tspan></text></g>
<text x="368.9" y="526.4" font-size="13" text-anchor="middle" fill="#000">Water vapor concentration (vol%)</text>
<text transform="translate(10.6,242.6) rotate(-90)" font-size="13" text-anchor="middle" fill="#000">Deliquescence temperature (°C)</text>
</svg>
</body></html>
